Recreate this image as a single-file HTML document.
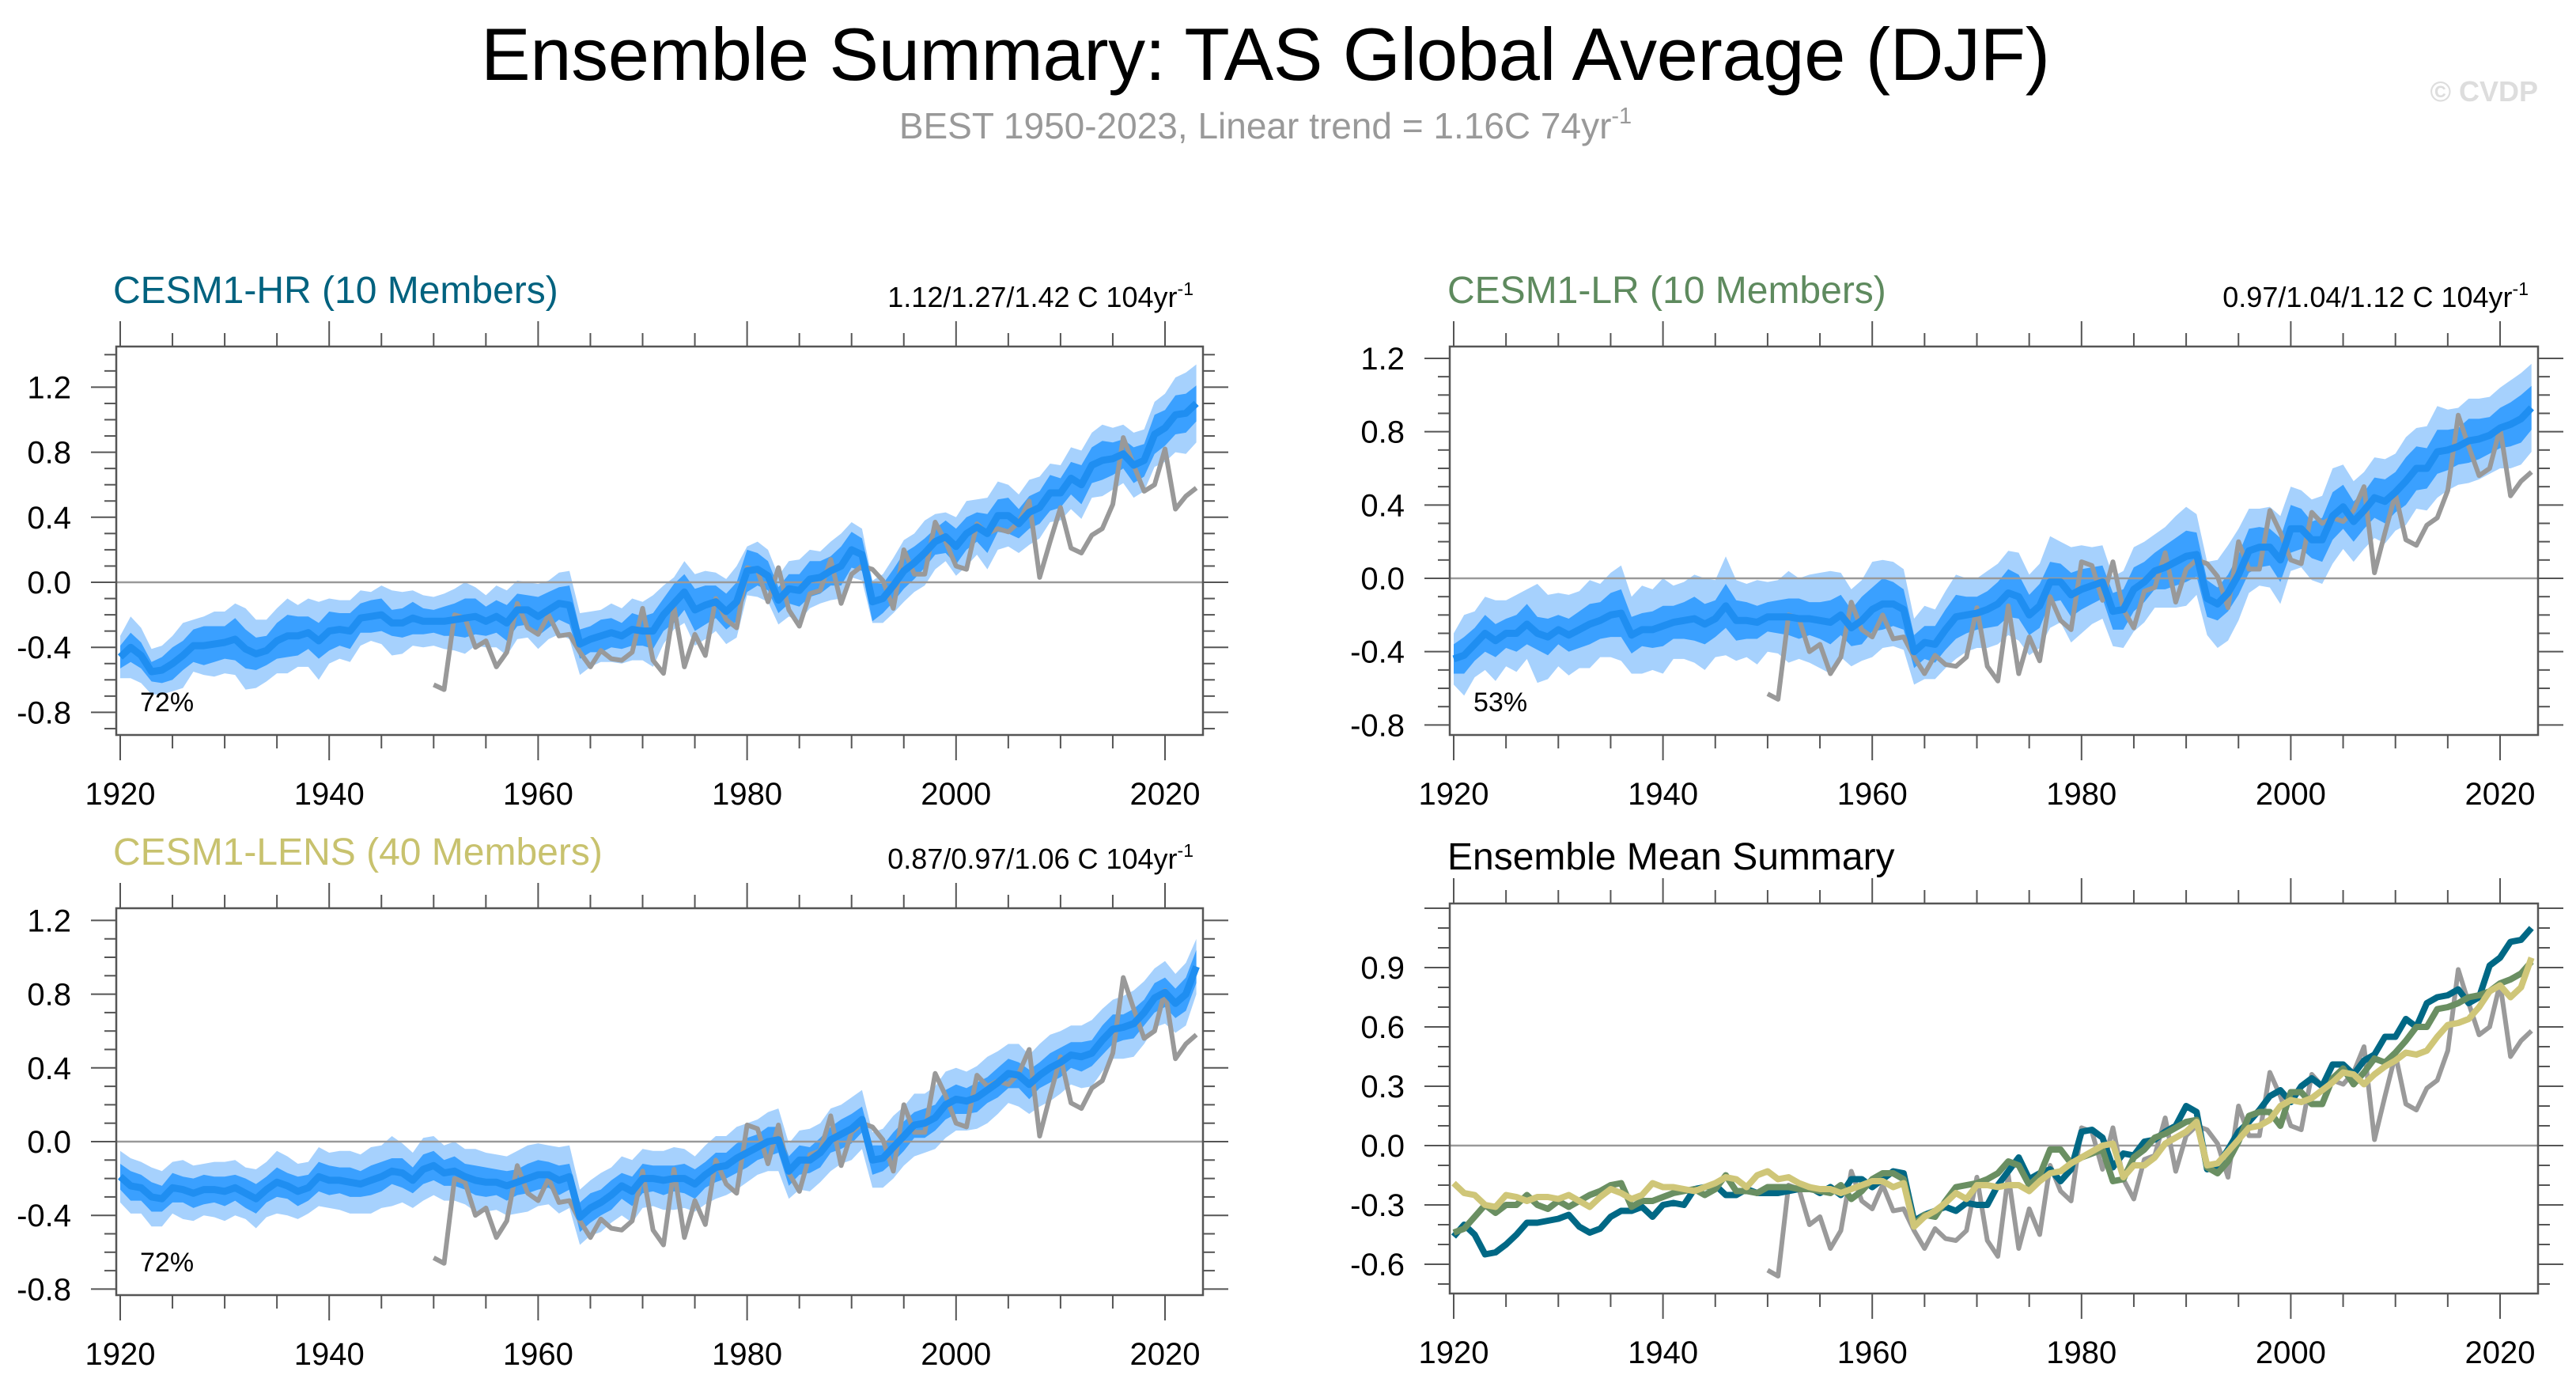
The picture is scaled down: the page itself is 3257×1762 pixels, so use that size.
<!DOCTYPE html>
<html><head><meta charset="utf-8"><style>
html,body{margin:0;padding:0;background:#fff}
svg{display:block;font-family:"Liberation Sans",sans-serif}
</style></head><body>
<svg id="fig" width="3257" height="1762" viewBox="0 0 3257 1762" xmlns="http://www.w3.org/2000/svg">
<text x="1600" y="101" font-size="94" text-anchor="middle" textLength="1984" fill="#000">Ensemble Summary: TAS Global Average (DJF)</text>
<text x="1600" y="175" font-size="46" text-anchor="middle" fill="#999">BEST 1950-2023, Linear trend = 1.16C 74yr<tspan dy="-19" font-size="29">-1</tspan></text>
<text x="3209" y="128" font-size="36" font-weight="bold" text-anchor="end" fill="#ddd">© CVDP</text>
<g id="panels"></g>
</svg>
<script>
const years = []; for (let y = 1920; y <= 2023; y++) years.push(y);
const obsYears = []; for (let y = 1950; y <= 2023; y++) obsYears.push(y);
const obsValues = [-0.63,-0.66,-0.20,-0.22,-0.40,-0.36,-0.52,-0.43,-0.13,-0.28,-0.32,-0.20,-0.33,-0.32,-0.43,-0.52,-0.42,-0.47,-0.48,-0.43,-0.16,-0.48,-0.56,-0.15,-0.52,-0.32,-0.45,-0.10,-0.23,-0.28,0.09,0.07,-0.12,0.09,-0.17,-0.27,-0.07,-0.05,0.14,-0.13,0.05,0.10,0.08,0.01,-0.16,0.20,0.05,0.05,0.37,0.25,0.10,0.08,0.36,0.30,0.33,0.31,0.37,0.50,0.03,0.25,0.46,0.21,0.18,0.29,0.33,0.48,0.89,0.72,0.56,0.60,0.82,0.45,0.53,0.58];
const hrMean = [-0.46,-0.40,-0.45,-0.55,-0.54,-0.50,-0.45,-0.39,-0.39,-0.38,-0.37,-0.35,-0.41,-0.44,-0.42,-0.36,-0.33,-0.33,-0.31,-0.36,-0.30,-0.29,-0.30,-0.22,-0.21,-0.20,-0.25,-0.25,-0.22,-0.24,-0.24,-0.24,-0.23,-0.22,-0.21,-0.24,-0.21,-0.25,-0.17,-0.17,-0.21,-0.17,-0.13,-0.14,-0.38,-0.35,-0.33,-0.31,-0.33,-0.29,-0.30,-0.30,-0.20,-0.13,-0.06,-0.17,-0.14,-0.12,-0.18,-0.12,0.07,0.08,0.04,-0.11,-0.04,-0.05,0.02,0.03,0.07,0.10,0.20,0.17,-0.12,-0.10,-0.02,0.07,0.12,0.18,0.25,0.28,0.22,0.30,0.34,0.30,0.41,0.41,0.36,0.43,0.46,0.55,0.55,0.64,0.60,0.72,0.75,0.76,0.79,0.72,0.75,0.91,0.95,1.03,1.04,1.10];
const lrMean = [-0.44,-0.42,-0.36,-0.30,-0.34,-0.30,-0.30,-0.25,-0.30,-0.32,-0.28,-0.31,-0.28,-0.25,-0.23,-0.20,-0.19,-0.31,-0.28,-0.28,-0.26,-0.24,-0.23,-0.22,-0.25,-0.22,-0.15,-0.23,-0.23,-0.24,-0.21,-0.21,-0.21,-0.22,-0.22,-0.23,-0.24,-0.20,-0.27,-0.23,-0.17,-0.14,-0.14,-0.17,-0.40,-0.35,-0.36,-0.28,-0.21,-0.20,-0.19,-0.17,-0.14,-0.08,-0.10,-0.20,-0.15,-0.02,-0.02,-0.09,-0.06,-0.04,-0.02,-0.18,-0.17,-0.06,-0.02,0.04,0.06,0.09,0.12,0.13,-0.11,-0.14,-0.08,0.02,0.15,0.17,0.17,0.10,0.27,0.27,0.21,0.21,0.34,0.39,0.31,0.37,0.44,0.42,0.47,0.53,0.60,0.60,0.69,0.70,0.72,0.75,0.76,0.78,0.82,0.84,0.87,0.93];
const lensMean = [-0.19,-0.24,-0.25,-0.30,-0.31,-0.25,-0.26,-0.28,-0.26,-0.26,-0.27,-0.25,-0.28,-0.31,-0.26,-0.22,-0.24,-0.27,-0.25,-0.19,-0.21,-0.21,-0.22,-0.23,-0.21,-0.19,-0.16,-0.17,-0.21,-0.15,-0.13,-0.17,-0.16,-0.19,-0.21,-0.22,-0.22,-0.24,-0.22,-0.20,-0.18,-0.18,-0.21,-0.19,-0.41,-0.36,-0.33,-0.29,-0.24,-0.27,-0.20,-0.20,-0.21,-0.20,-0.20,-0.23,-0.18,-0.14,-0.13,-0.09,-0.06,-0.03,0.00,0.01,-0.16,-0.10,-0.10,-0.06,0.01,0.04,0.07,0.12,-0.10,-0.09,-0.03,0.03,0.09,0.10,0.13,0.20,0.23,0.22,0.24,0.28,0.32,0.37,0.36,0.31,0.36,0.40,0.43,0.47,0.46,0.48,0.55,0.61,0.62,0.64,0.70,0.78,0.81,0.75,0.80,0.95];
const hrInner = [0.07,0.09,0.08,0.06,0.08,0.10,0.09,0.10,0.12,0.11,0.10,0.13,0.12,0.10,0.09,0.11,0.13,0.12,0.10,0.11,0.12,0.10,0.11,0.09,0.10,0.10,0.08,0.09,0.10,0.08,0.07,0.09,0.10,0.12,0.11,0.09,0.10,0.11,0.10,0.09,0.12,0.11,0.10,0.12,0.09,0.08,0.10,0.09,0.08,0.10,0.09,0.11,0.10,0.12,0.11,0.13,0.12,0.10,0.11,0.12,0.13,0.10,0.09,0.08,0.09,0.10,0.11,0.10,0.09,0.12,0.11,0.10,0.12,0.09,0.10,0.11,0.10,0.09,0.08,0.10,0.11,0.10,0.09,0.12,0.10,0.11,0.09,0.10,0.10,0.11,0.09,0.10,0.12,0.11,0.12,0.10,0.09,0.11,0.10,0.12,0.11,0.12,0.12,0.11];
const hrOuter = [0.13,0.19,0.17,0.14,0.15,0.17,0.20,0.16,0.18,0.20,0.19,0.22,0.25,0.21,0.19,0.20,0.23,0.19,0.21,0.24,0.20,0.18,0.19,0.17,0.15,0.18,0.20,0.19,0.17,0.16,0.15,0.17,0.19,0.22,0.18,0.16,0.19,0.20,0.18,0.17,0.20,0.18,0.19,0.21,0.19,0.17,0.16,0.18,0.17,0.19,0.18,0.22,0.18,0.16,0.19,0.22,0.21,0.18,0.20,0.22,0.15,0.17,0.16,0.15,0.17,0.19,0.18,0.16,0.18,0.20,0.17,0.16,0.13,0.15,0.17,0.19,0.18,0.20,0.17,0.15,0.18,0.20,0.17,0.22,0.21,0.19,0.18,0.20,0.19,0.18,0.17,0.19,0.21,0.20,0.22,0.19,0.18,0.20,0.19,0.20,0.21,0.23,0.25,0.24];
const lrInner = [0.08,0.10,0.09,0.10,0.09,0.08,0.10,0.11,0.09,0.10,0.08,0.09,0.10,0.11,0.10,0.12,0.13,0.10,0.09,0.10,0.11,0.09,0.10,0.12,0.11,0.10,0.12,0.11,0.10,0.09,0.08,0.09,0.10,0.11,0.09,0.10,0.12,0.11,0.10,0.13,0.12,0.14,0.12,0.11,0.09,0.09,0.10,0.11,0.12,0.10,0.09,0.10,0.12,0.13,0.12,0.11,0.12,0.11,0.10,0.12,0.11,0.10,0.09,0.10,0.11,0.12,0.11,0.10,0.12,0.13,0.14,0.12,0.10,0.09,0.10,0.11,0.12,0.11,0.10,0.12,0.13,0.11,0.10,0.12,0.13,0.12,0.11,0.10,0.11,0.12,0.11,0.13,0.12,0.11,0.12,0.11,0.10,0.12,0.11,0.10,0.11,0.12,0.13,0.12];
const lrOuter = [0.14,0.22,0.18,0.20,0.22,0.18,0.21,0.19,0.27,0.23,0.20,0.22,0.21,0.24,0.20,0.23,0.26,0.21,0.24,0.22,0.26,0.20,0.21,0.24,0.25,0.21,0.27,0.22,0.20,0.23,0.19,0.20,0.25,0.22,0.24,0.26,0.28,0.23,0.21,0.22,0.26,0.24,0.23,0.22,0.18,0.20,0.19,0.21,0.23,0.20,0.19,0.21,0.22,0.23,0.24,0.22,0.23,0.25,0.22,0.26,0.24,0.21,0.20,0.19,0.21,0.23,0.22,0.20,0.22,0.25,0.27,0.22,0.20,0.24,0.26,0.25,0.23,0.21,0.22,0.24,0.23,0.21,0.22,0.24,0.26,0.23,0.22,0.21,0.22,0.23,0.21,0.24,0.22,0.23,0.25,0.22,0.21,0.23,0.22,0.21,0.22,0.24,0.25,0.24];
const lensInner = [0.07,0.08,0.07,0.08,0.07,0.08,0.07,0.08,0.08,0.07,0.08,0.07,0.08,0.08,0.07,0.08,0.07,0.08,0.07,0.08,0.08,0.07,0.08,0.07,0.08,0.08,0.07,0.08,0.07,0.08,0.08,0.07,0.08,0.07,0.08,0.08,0.07,0.08,0.07,0.08,0.08,0.07,0.08,0.07,0.08,0.08,0.07,0.08,0.07,0.08,0.08,0.07,0.08,0.07,0.08,0.08,0.07,0.08,0.07,0.08,0.08,0.07,0.08,0.07,0.08,0.08,0.07,0.08,0.07,0.08,0.08,0.07,0.08,0.07,0.08,0.08,0.07,0.08,0.07,0.08,0.08,0.07,0.08,0.07,0.08,0.08,0.07,0.08,0.07,0.08,0.08,0.07,0.08,0.07,0.08,0.08,0.07,0.08,0.07,0.08,0.08,0.08,0.09,0.09];
const lensOuter = [0.14,0.15,0.14,0.16,0.15,0.14,0.16,0.15,0.14,0.15,0.16,0.15,0.14,0.16,0.15,0.17,0.16,0.15,0.14,0.16,0.15,0.16,0.17,0.16,0.18,0.17,0.19,0.16,0.15,0.17,0.16,0.15,0.16,0.15,0.17,0.16,0.15,0.16,0.17,0.18,0.17,0.16,0.18,0.17,0.15,0.15,0.16,0.15,0.16,0.17,0.16,0.15,0.16,0.17,0.16,0.15,0.16,0.17,0.16,0.17,0.16,0.15,0.16,0.17,0.15,0.16,0.17,0.16,0.17,0.16,0.17,0.16,0.15,0.16,0.17,0.16,0.17,0.16,0.17,0.18,0.17,0.16,0.17,0.18,0.17,0.16,0.17,0.16,0.17,0.18,0.17,0.16,0.17,0.18,0.17,0.16,0.17,0.18,0.17,0.16,0.17,0.16,0.17,0.15];
const xTickYears = [1920,1940,1960,1980,2000,2020];

const NS = 'http://www.w3.org/2000/svg';
const root = document.getElementById('panels');
function el(tag, attrs, parent) { const e = document.createElementNS(NS, tag); for (const k in attrs) e.setAttribute(k, attrs[k]); (parent||root).appendChild(e); return e; }

function panel(cfg) {
  const g = el('g', {});
  
  
  const X = yr => cfg.x0 + (yr - 1920) * cfg.xs;
  const Y = v => cfg.zeroY - v * cfg.ys;
  const L = cfg.box[0], R = cfg.box[1], T = cfg.box[2], B = cfg.box[3];
  const tk = el('g', {stroke: '#555', 'stroke-width': 2}, g);
  
  
  for (let yr = 1920; yr <= 2023; yr += 5) {
    const major = yr % 20 === 0, len = major ? 32 : 17, x = X(yr);
    el('line', {x1: x, x2: x, y1: T, y2: T - len}, tk);
    el('line', {x1: x, x2: x, y1: B, y2: B + len}, tk);
  }
  const vMin = (cfg.zeroY - B) / cfg.ys, vMax = (cfg.zeroY - T) / cfg.ys;
  for (let i = Math.ceil(vMin * 10 - 1e-6); i <= Math.floor(vMax * 10 + 1e-6); i++) {
    const v = i / 10, major = Math.abs(v / cfg.yStep - Math.round(v / cfg.yStep)) < 1e-6, len = major ? 32 : 15, y = Y(v);
    el('line', {x1: L, x2: L - len, y1: y, y2: y}, tk);
    el('line', {x1: R, x2: R + len, y1: y, y2: y}, tk);
  }
  if (cfg.mean) {
    const bands = [[cfg.outer, '#a6d1fd', 'outer-spread-band'], [cfg.inner, '#3aa0ff', 'inner-spread-band']];
    for (const [hw, col, nm] of bands) {
      let d = '';
      years.forEach((yr, i) => { d += (i ? 'L' : 'M') + X(yr).toFixed(1) + ',' + Y(cfg.mean[i] + hw[i]).toFixed(1); });
      for (let i = years.length - 1; i >= 0; i--) d += 'L' + X(years[i]).toFixed(1) + ',' + Y(cfg.mean[i] - hw[i]).toFixed(1);
      const p = el('path', {d: d + 'Z', fill: col}, g);
      
      
    }
  }
  const z = el('line', {x1: L, x2: R, y1: Y(0), y2: Y(0), stroke: '#999', 'stroke-width': 2.5}, g);
  
  
  function line(xs, vs, col, w, nm) {
    const d = xs.map((yr, i) => (i ? 'L' : 'M') + X(yr).toFixed(1) + ',' + Y(vs[i]).toFixed(1)).join('');
    const p = el('path', {d, fill: 'none', stroke: col, 'stroke-width': w, 'stroke-linejoin': 'round'}, g);
    
    
  }
  if (cfg.mean) {
    line(obsYears, obsValues, '#999', 6, 'observed-line');
    line(years, cfg.mean, '#1f8ef1', 9, 'ensemble-mean-line');
  } else {
    line(obsYears, obsValues, '#9a9a9a', 6, 'observed-line');
    line(years, hrMean, '#006885', 8, 'cesm1-hr-mean-line');
    line(years, lrMean, '#6a8f62', 8, 'cesm1-lr-mean-line');
    line(years, lensMean, '#cfc678', 8, 'cesm1-lens-mean-line');
  }
  const box = el('rect', {x: L, y: T, width: R - L, height: B - T, fill: 'none', stroke: '#555', 'stroke-width': 2.5}, g);
  
  
  xTickYears.forEach(yr => {
    const t = el('text', {x: X(yr), y: B + 88, 'font-size': 40, 'text-anchor': 'middle'}, g);
    t.textContent = yr;
    
    
  });
  cfg.yLabels.forEach(v => {
    const t = el('text', {x: L - 57, y: Y(v) + 14, 'font-size': 40, 'text-anchor': 'end'}, g);
    t.textContent = v.toFixed(1);
    
    
  });
  const tt = el('text', {x: cfg.titleX, y: T - cfg.titleDy, 'font-size': 48, fill: cfg.titleColor}, g);
  tt.textContent = cfg.title;
  
  
  if (cfg.trend) {
    const tr = el('text', {x: R - 12, y: T - 50, 'font-size': 36, 'text-anchor': 'end'}, g);
    tr.innerHTML = cfg.trend + '<tspan dy="-15" font-size="23">-1</tspan>';
    
    
  }
  if (cfg.pct) {
    const pc = el('text', {x: L + 30, y: B - 30, 'font-size': 34}, g);
    pc.textContent = cfg.pct;
    
    
  }
}

panel({name: 'cesm1-hr-panel', box: [147, 1521, 438, 929], x0: 152, xs: 13.21, zeroY: 736, ys: 205.5, yStep: 0.4,
  yLabels: [1.2, 0.8, 0.4, 0.0, -0.4, -0.8], mean: hrMean, inner: hrInner, outer: hrOuter, titleDy: 55,
  title: 'CESM1-HR (10 Members)', titleColor: '#00627f', titleX: 143, trend: '1.12/1.27/1.42 C 104yr', pct: '72%'});
panel({name: 'cesm1-lr-panel', box: [1833, 3209, 438, 929], x0: 1838, xs: 13.23, zeroY: 731, ys: 231.7, yStep: 0.4,
  yLabels: [1.2, 0.8, 0.4, 0.0, -0.4, -0.8], mean: lrMean, inner: lrInner, outer: lrOuter, titleDy: 55,
  title: 'CESM1-LR (10 Members)', titleColor: '#5e8a5e', titleX: 1830, trend: '0.97/1.04/1.12 C 104yr', pct: '53%'});
panel({name: 'cesm1-lens-panel', box: [147, 1521, 1148, 1637], x0: 152, xs: 13.21, zeroY: 1443, ys: 233, yStep: 0.4,
  yLabels: [1.2, 0.8, 0.4, 0.0, -0.4, -0.8], mean: lensMean, inner: lensInner, outer: lensOuter, titleDy: 55,
  title: 'CESM1-LENS (40 Members)', titleColor: '#c8c26e', titleX: 143, trend: '0.87/0.97/1.06 C 104yr', pct: '72%'});
panel({name: 'ensemble-mean-panel', box: [1833, 3209, 1142, 1635], x0: 1838, xs: 13.23, zeroY: 1448, ys: 250, yStep: 0.3,
  yLabels: [0.9, 0.6, 0.3, 0.0, -0.3, -0.6], mean: null, titleDy: 43,
  title: 'Ensemble Mean Summary', titleColor: '#000', titleX: 1830});
</script>
</body></html>
